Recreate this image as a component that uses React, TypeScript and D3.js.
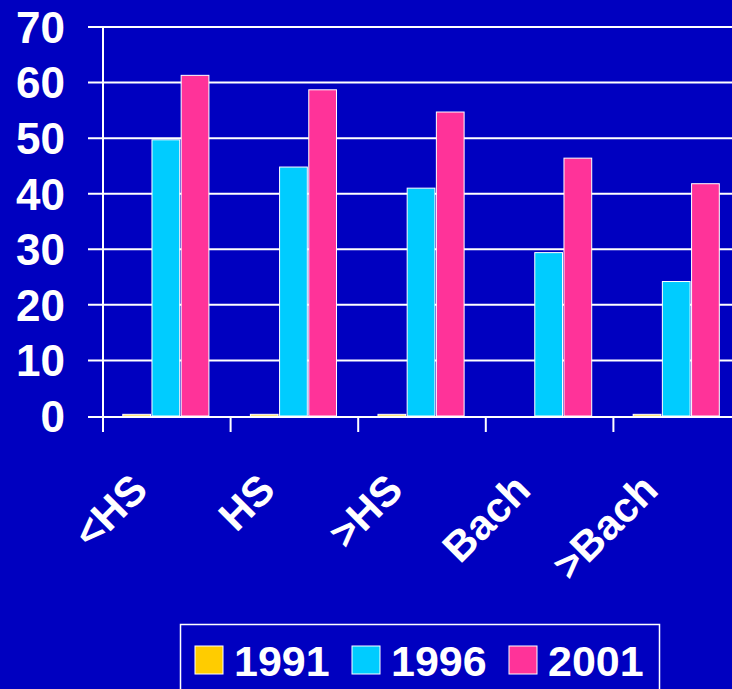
import React, { useEffect } from 'react'
import * as d3 from 'd3'

// data
const categories = ['<HS', 'HS', '>HS', 'Bach', '>Bach']
const years = ['1991', '1996', '2001']
const values1991 = [0.3, 0.3, 0.3, 0, 0.3]
const values1996 = [49.7, 44.8, 41.0, 29.4, 24.2]
const values2001 = [61.3, 58.7, 54.7, 46.4, 41.8]
const yTicks = [0, 10, 20, 30, 40, 50, 60, 70]

const colors = ['#FFCC00', '#00CCFF', '#FF3399']
const bg = '#0000C0'
const font = '"Liberation Sans", Arial, sans-serif'

const W = 732
const H = 689
const margin = { top: 27, left: 103, bottom: 416, right: 741 }

export default function App() {
    useEffect(() => {
        document.body.style.margin = '0'
        document.body.style.background = bg
    }, [])

    const series = [values1991, values1996, values2001]

    const y = d3.scaleLinear().domain([0, 70]).range([margin.bottom, margin.top])
    const x = d3.scaleBand().domain(categories).range([margin.left, margin.right])
    const bw = x.bandwidth()
    // the three bars sit a bit left of centre in each group
    const xSub = d3.scaleBand().domain(years).range([bw * 0.155, bw * 0.83]).paddingInner(0.05)

    return (
        <svg width={W} height={H} style={{ display: 'block' }} fontFamily={font}>
            <rect x={0} y={0} width={W} height={H} fill={bg} />

            {/* gridlines + y labels */}
            {yTicks.map(t => (
                <g key={t}>
                    {t > 0 && (
                        <line x1={88} x2={W} y1={y(t)} y2={y(t)} stroke="white" strokeWidth={2} />
                    )}
                    <text x={65} y={y(t)} dy="0.36em" textAnchor="end" fill="white"
                        fontSize={44} fontWeight="bold">{t}</text>
                </g>
            ))}

            {/* bars */}
            {categories.map((c, ci) => (
                <g key={c} transform={`translate(${x(c)},0)`}>
                    {series.map((s, si) => (
                        s[ci] > 0 ? (
                            <rect key={si}
                                x={xSub(years[si])}
                                y={y(s[ci])}
                                width={xSub.bandwidth()}
                                height={y(0) - y(s[ci])}
                                fill={colors[si]}
                                stroke="white"
                                strokeWidth={1} />
                        ) : null
                    ))}
                </g>
            ))}

            {/* axes */}
            <line x1={margin.left} x2={margin.left} y1={margin.top} y2={y(0) + 16} stroke="white" strokeWidth={2} />
            <line x1={88} x2={W} y1={y(0) + 1} y2={y(0) + 1} stroke="white" strokeWidth={2} />
            {categories.map(c => (
                <line key={c} x1={x(c)} x2={x(c)} y1={y(0)} y2={y(0) + 16} stroke="white" strokeWidth={2} />
            ))}

            {/* category labels */}
            {categories.map(c => {
                const cx = (x(c) as number) + bw / 2 - 17
                const cy = y(0) + 76
                return (
                    <text key={c} x={cx} y={cy} transform={`rotate(-45,${cx},${cy})`}
                        textAnchor="end" fill="white" fontSize={42} fontWeight="bold">{c}</text>
                )
            })}

            {/* legend */}
            <rect x={180.5} y={624.5} width={479} height={90} fill="none" stroke="white" strokeWidth={1.5} />
            {years.map((yr, i) => (
                <g key={yr} transform={`translate(${195 + i * 157},0)`}>
                    <rect x={0} y={646} width={28} height={28} fill={colors[i]} stroke="white" strokeWidth={1} />
                    <text x={39} y={676} fill="white" fontSize={43} fontWeight="bold">{yr}</text>
                </g>
            ))}
        </svg>
    )
}
